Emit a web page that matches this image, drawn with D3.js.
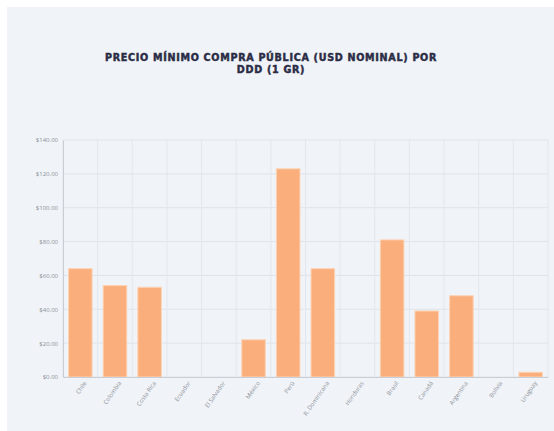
<!DOCTYPE html>
<html lang="es">
<head>
<meta charset="UTF-8">
<script src="https://cdnjs.cloudflare.com/ajax/libs/d3/7.8.5/d3.min.js"></script>
<style>
    body { margin: 0; background: #fff; }
    .tick text { font-family: "Open Sans", sans-serif; fill: #8a8f98; }
</style>
<title>Precio mínimo compra pública</title>
</head>
<body>
<svg id="chart" width="554" height="431"></svg>
<script>
    // data
    var countries = ['Chile', 'Colombia', 'Costa Rica', 'Ecuador', 'El Salvador', 'México', 'Perú',
        'R. Dominicana', 'Honduras', 'Brasil', 'Canadá', 'Argentina', 'Bolivia', 'Uruguay'];
    var prices = [64, 54, 53, 0, 0, 22, 123, 64, 0, 81, 39, 48, 0, 2.8];
    var yTicks = [0, 20, 40, 60, 80, 100, 120, 140];

    var svg = d3.select('#chart');
    var margin = {left: 63, right: 6, top: 140, bottom: 54};
    var width = 554 - margin.left - margin.right;
    var height = 431 - margin.top - margin.bottom;

    svg.append('rect')
        .attr('x', 7).attr('y', 7)
        .attr('width', 547).attr('height', 424)
        .attr('fill', '#f0f3f7');

    var title = svg.append('text')
        .attr('text-anchor', 'middle')
        .attr('font-family', '"DejaVu Sans", sans-serif')
        .attr('font-weight', 'bold')
        .attr('font-size', 9.6)
        .attr('letter-spacing', 0.7)
        .attr('fill', '#2b2c45')
        .attr('stroke', '#2b2c45')
        .attr('stroke-width', 0.45);
    title.append('tspan').attr('x', 271).attr('y', 61).text('PRECIO MÍNIMO COMPRA PÚBLICA (USD NOMINAL) POR');
    title.append('tspan').attr('x', 271).attr('y', 73).text('DDD (1 GR)');

    var g = svg.append('g').attr('transform', 'translate(' + margin.left + ',' + margin.top + ')');

    var x = d3.scaleBand().domain(countries).range([0, width]).paddingInner(0.32).paddingOuter(0.16);
    var y = d3.scaleLinear().domain([0, 140]).range([height, 0]);

    // horizontal grid
    g.append('g')
        .selectAll('line')
        .data(yTicks)
        .enter().append('line')
        .attr('x1', 0).attr('x2', width)
        .attr('y1', function(d) { return y(d); })
        .attr('y2', function(d) { return y(d); })
        .attr('stroke', '#e0e4ea');

    // vertical grid at category boundaries
    var step = x.step();
    var x0 = x(countries[0]) - step * x.paddingOuter();
    g.append('g')
        .selectAll('line')
        .data(d3.range(countries.length + 1))
        .enter().append('line')
        .attr('x1', function(i) { return x0 + i * step; })
        .attr('x2', function(i) { return x0 + i * step; })
        .attr('y1', 0).attr('y2', height)
        .attr('stroke', '#e3e7ed');

    g.selectAll('.bar')
        .data(prices)
        .enter().append('rect')
        .attr('class', 'bar')
        .attr('x', function(d, i) { return x(countries[i]); })
        .attr('y', function(d) { return y(d); })
        .attr('width', x.bandwidth())
        .attr('height', function(d) { return height - y(d); })
        .attr('fill', '#f9ae7c')
        .attr('stroke', '#fcd3b4')
        .attr('stroke-width', 1);

    var yAxis = g.append('g')
        .call(d3.axisLeft(y).tickValues(yTicks).tickSize(0).tickPadding(5)
            .tickFormat(function(d) { return '$' + d3.format('.2f')(d); }));
    yAxis.select('.domain').attr('stroke', '#c9ced6');
    yAxis.selectAll('text').attr('font-size', 6);

    var xAxis = g.append('g')
        .attr('transform', 'translate(0,' + height + ')')
        .call(d3.axisBottom(x).tickSize(0).tickPadding(6));
    xAxis.select('.domain').attr('stroke', '#c9ced6');
    xAxis.selectAll('text')
        .attr('font-size', 6)
        .attr('text-anchor', 'end')
        .attr('dx', '-0.2em')
        .attr('dy', '0.5em')
        .attr('transform', 'rotate(-55)');
</script>
</body>
</html>
